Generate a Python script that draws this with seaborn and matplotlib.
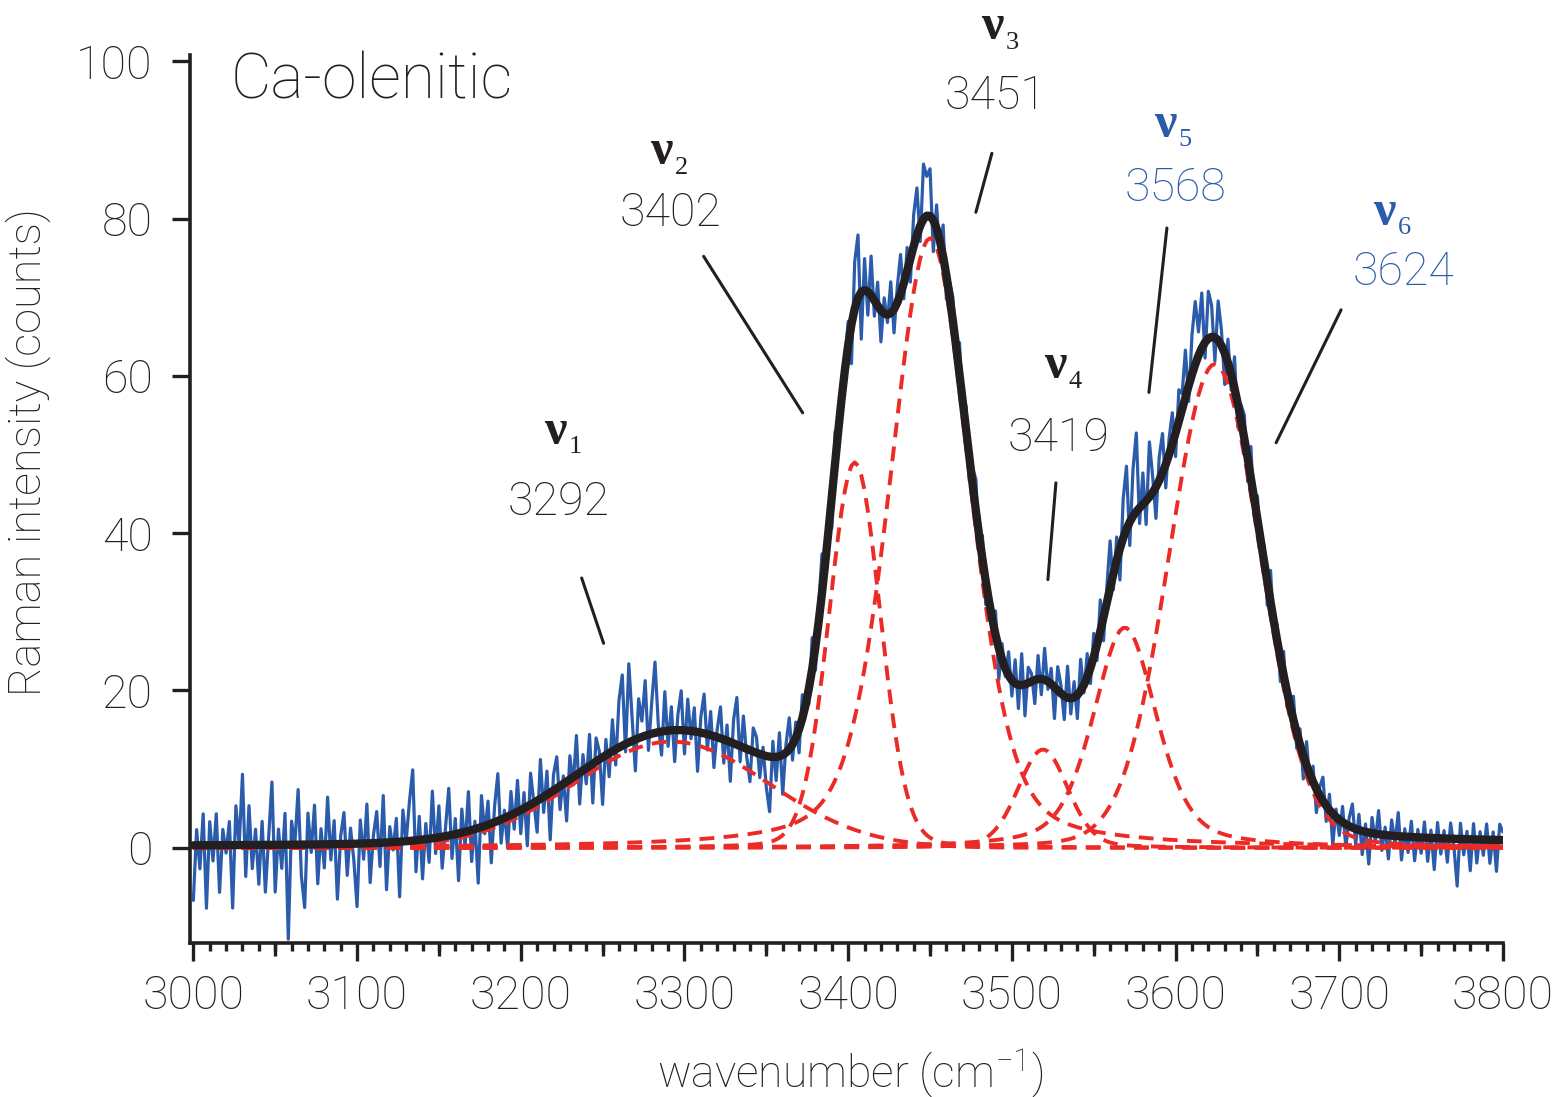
import numpy as np
import pandas as pd
import seaborn as sns
import matplotlib.pyplot as plt

# fitted bands
peak_names = ['1', '2', '3', '4', '5', '6']
peak_labels = ['3292', '3402', '3451', '3419', '3568', '3624']
peak_centers = [3292, 3404, 3450, 3519, 3569, 3624]
peak_heights = [13.5, 49, 77.5, 12.5, 28, 61.5]
peak_fwhm = [140, 37, 58, 36, 46, 66]
peak_lorentz = [0.0, 0.1, 0.35, 0.2, 0.45, 0.1]
baseline_ends = [0.15, 0.45]

# measured spectrum, 2 cm-1 steps from 3000 to 3800: deviation (counts) of the
# blue trace from the black fit, read from the picture
noise_counts = [
    -7, 2, -3, 4, -8, 3, -2, 4, -6, 2, -1, 3, -8, 5, 0, 9, -4, 5, -3, 2, -5, 3, -6, 1, 8,
    -6, 2, -3, 4, -12, 3, 0, 7, -4, -8, 4, -1, 5, -5, 2, -3, 6, -2, 3, -7, 1, 4, -4, 2, -2,
    -8, 3, -2, 5, -5, 1, 4, -3, 6, -6, 2, -1, 3, -7, 4, 0, 5, 9, -4, 3, -5, 2, -3, 6, -2,
    4, -4, 1, 6, -3, 2, -6, 3, -2, 5, -4, 1, -7, 4, -1, 3, -5, 2, 6, -3, 1, -4, 3, -2, 4,
    -3, 2, -5, 4, 0, -4, 5, -2, 3, -6, 2, 4, -3, 1, -5, 3, -1, 5, -4, 2, -2, 4, -5, 3, 1,
    -6, 2, -3, 4, -2, 6, 9, -1, 10, 3, -4, 5, 2, 7, -2, 4, 9, 1, -3, 5, -2, 3, -4, 2, 5,
    -3, 4, -1, 3, -5, 2, 5, -2, 3, -4, 1, 4, -3, 2, -5, 3, 6, -2, 4, -1, -4, 3, 2, -3, 1,
    -4, -7, 2, -3, 3, -5, 1, 4, -2, 2, -3, 3, 1, -2, 4, -3, 2, 5, -2, 3, -4, 4, -3, 2, 1,
    3, -5, 6, 8, -6, 4, -3, 5, -2, 3, -4, 2, -1, 4, -3, 2, 5, -2, 3, -3, 4, 6, -2, 7, 5,
    6, -4, 3, -2, 4, -3, 2, 3, -2, 4, -1, 3, -3, 2, 4, -2, 3, -3, 1, -2, 3, -4, 2, -1, 3,
    -2, 3, -3, 4, -4, 2, 1, -3, 3, -2, 4, -1, 2, -4, 3, 1, -3, 4, -2, 2, -3, 4, -1, 3, -2,
    3, -2, 4, -3, 2, 6, -2, 3, -4, 5, 8, -3, 6, 10, -2, 4, -3, 7, 2, -4, 3, 5, -3, 2, 4,
    -3, 4, 2, 6, -2, 5, 8, 3, 7, -2, 6, 4, -3, 5, 2, -4, 3, -2, 4, -3, 2, 3, -3, 4, -2,
    3, -2, 2, -3, 4, -1, 2, -3, 3, -2, 1, 3, -2, 2, -3, 3, -1, 2, -3, 1, 3, -2, 2, -4, 1,
    -2, 2, -3, 1, 3, -2, 2, -3, 1, -4, 2, -1, 3, -2, 1, -3, 2, -1, 3, -3, 1, -2, 2, -3, 1,
    -2, 2, -3, 1, -4, 2, -2, 1, -3, 2, -1, -6, 2, -2, 1, -4, 2, -3, 1, -2, 2, -3, 1, -4, 2,
    1,
]

wn = np.arange(3000, 3801, 2)


def pseudo_voigt(x, c, h, w, eta):
    g = np.exp(-4 * np.log(2) * ((x - c) / w) ** 2)
    l = 1 / (1 + (2 * (x - c) / w) ** 2)
    return h * (eta * l + (1 - eta) * g)


comp = []
for n, c, h, w, e in zip(peak_names, peak_centers, peak_heights, peak_fwhm, peak_lorentz):
    comp.append(pd.DataFrame({'wn': wn, 'I': pseudo_voigt(wn, c, h, w, e), 'peak': n}))
comp = pd.concat(comp, ignore_index=True)

fit = comp.groupby('wn')['I'].sum().values + np.linspace(*baseline_ends, len(wn))
spec = pd.DataFrame({'wn': wn, 'fit': fit, 'raw': fit + np.array(noise_counts)})

sns.set_theme(style='ticks')
plt.rcParams['font.family'] = ['Roboto', 'DejaVu Sans']
plt.rcParams['font.weight'] = 'light'
plt.rcParams['axes.labelweight'] = 'light'
plt.rcParams['mathtext.fontset'] = 'stix'

black = '#231f20'
blue = '#2b5cab'
red = '#ec2b27'

fig = plt.figure(figsize=(15.58, 10.97), dpi=100)
ax = fig.add_axes([0.122, 0.1404, 0.8427, 0.8095])

sns.lineplot(data=spec, x='wn', y='raw', color=blue, lw=2.3, ax=ax, zorder=1)
sns.lineplot(data=comp, x='wn', y='I', units='peak', estimator=None, color=red,
             lw=2.8, linestyle=(0, (3.8, 2.4)), ax=ax, zorder=2)
sns.lineplot(data=spec, x='wn', y='fit', color=black, lw=6, ax=ax, zorder=3)

ax.set_xlim(2998, 3800)
ax.set_ylim(-12.1, 100.8)
ax.set_xticks(np.arange(3000, 3801, 100))
ax.set_xticks(np.arange(3000, 3801, 10), minor=True)
ax.set_yticks(np.arange(0, 101, 20))
sns.despine(ax=ax)
for s in ['left', 'bottom']:
    ax.spines[s].set_linewidth(2.6)
    ax.spines[s].set_color(black)
ax.tick_params(which='major', length=13, width=2.4, color=black, labelsize=33.5,
               labelcolor=black)
ax.tick_params(axis='x', which='major', pad=9)
ax.tick_params(axis='y', which='major', pad=14)
ax.tick_params(which='minor', length=6, width=2.4, color=black)
ax.tick_params(axis='y', which='minor', left=False)

# medium ticks every 50 cm-1
sec = ax.secondary_xaxis('bottom')
sec.set_xticks(np.arange(3050, 3800, 100))
sec.tick_params(length=9.5, width=2.4, color=black, labelbottom=False)
sec.spines['bottom'].set_visible(False)

ax.set_xlabel('wavenumber (cm$^{\\mathregular{-1}}$)', fontsize=32, color=black)
ax.set_ylabel('Raman intensity (counts)', fontsize=32.5, color=black)
ax.xaxis.set_label_coords(0.503, -0.118)
ax.yaxis.set_label_coords(-0.106, 0.553)

ax.text(3022.6, 97.4, 'Ca-olenitic', fontsize=45, ha='left', va='center', color=black)

# label layout: nu symbol centre, number centre, leader line start and end
layout = [
    ((3221.3, 52.9), (3223.0, 44.0), (3237.2, 34.3), (3250.6, 26.0), black),
    ((3286.1, 88.4), (3291.6, 80.7), (3311.7, 75.2), (3372.2, 55.3), black),
    ((3487.8, 104.3), (3490.2, 95.6), (3487.8, 88.3), (3478.0, 80.8), black),
    ((3526.3, 61.2), (3528.7, 52.1), (3526.9, 46.4), (3522.0, 34.1), black),
    ((3593.5, 91.9), (3600.2, 83.9), (3594.7, 78.8), (3583.7, 57.9), blue),
    ((3727.4, 80.7), (3739.0, 73.2), (3701.1, 68.4), (3661.4, 51.5), blue),
]
serif = ['Liberation Serif', 'DejaVu Serif']
for n, lab, (nu_xy, num_xy, p0, p1, col) in zip(peak_names, peak_labels, layout):
    ax.text(*nu_xy, '\u03bd', fontsize=36, family=serif, weight='bold',
            ha='center', va='center', color=col, clip_on=False)
    ax.annotate(n, xy=nu_xy, xytext=(14.5, -11), textcoords='offset points',
                fontsize=19, family=serif, weight='normal', ha='center', va='center',
                color=col, annotation_clip=False)
    ax.text(*num_xy, lab, fontsize=33.5, ha='center', va='center', color=col)
    ax.plot([p0[0], p1[0]], [p0[1], p1[1]], color=black, lw=2.2, clip_on=False)

fig.savefig('out.png', dpi=100)
